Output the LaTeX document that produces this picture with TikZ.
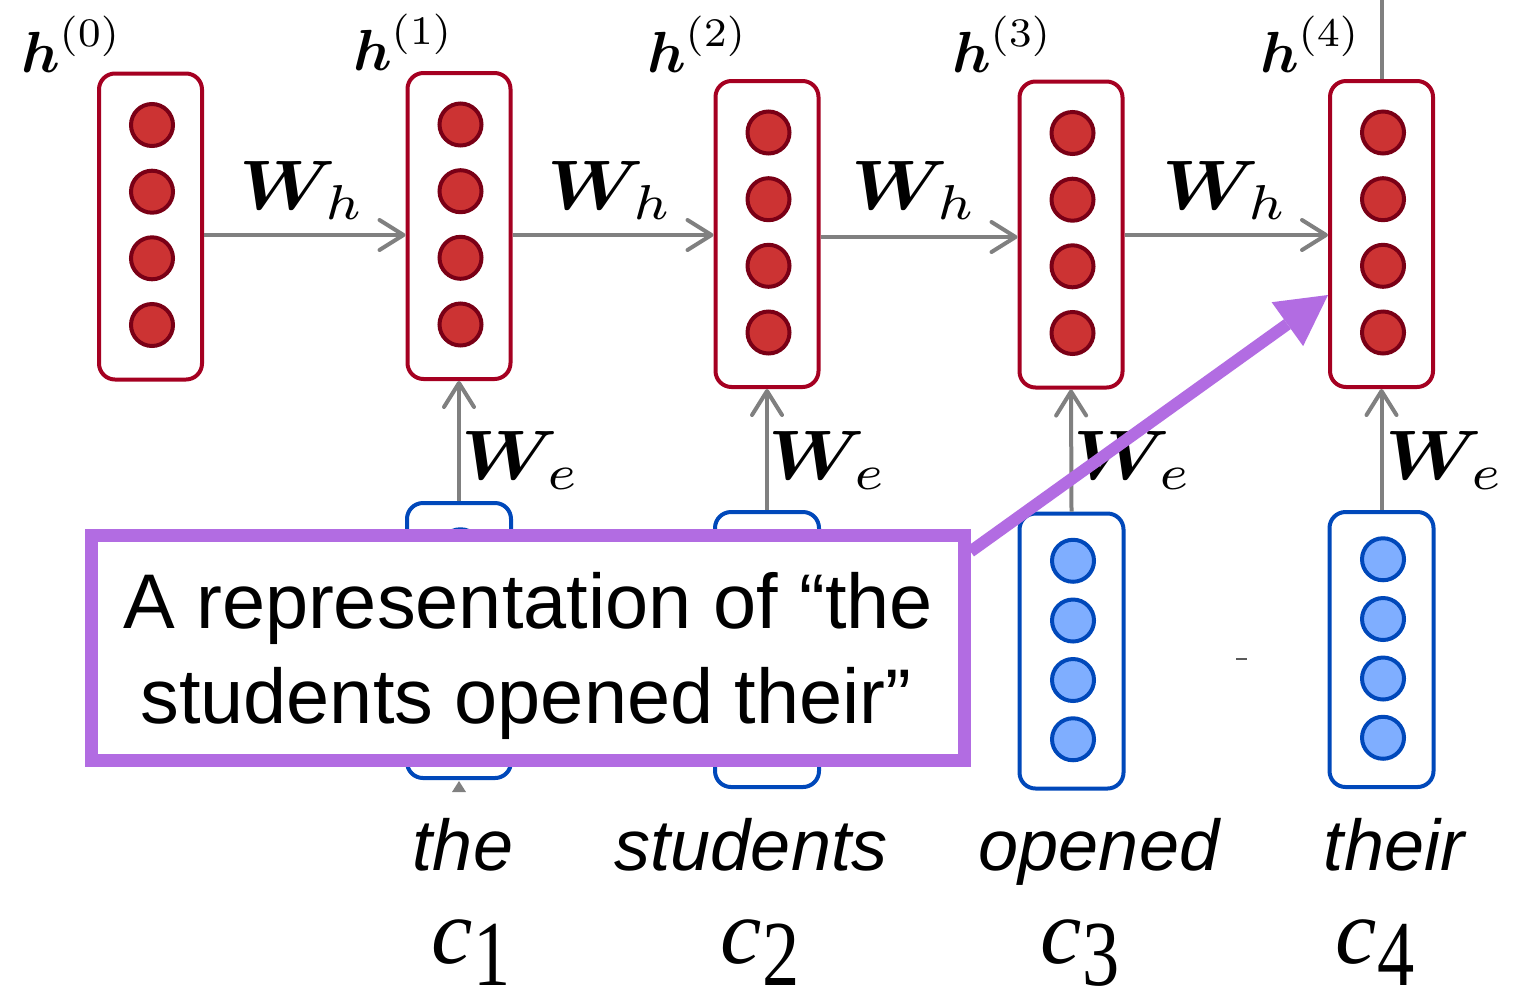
\documentclass[tikz,border=0pt]{standalone}
\usepackage{amsmath}
\usepackage{graphicx}
\usepackage{fontspec}
\newfontfamily\calfont{Liberation Sans}
\newfontfamily\serfont{Liberation Serif}
\usetikzlibrary{arrows.meta,calc}
\definecolor{rbox}{RGB}{165,0,33}
\definecolor{rfill}{RGB}{204,51,51}
\definecolor{rline}{RGB}{122,0,22}
\definecolor{bbox}{RGB}{0,72,186}
\definecolor{bfill}{RGB}{127,174,255}
\definecolor{callp}{RGB}{178,108,226}
\definecolor{arrg}{RGB}{128,128,128}
\newcommand{\hbig}[1]{\scalebox{5.8}{$#1$}}
\newcommand{\wbig}[1]{\scalebox{7.7}[7]{$\boldsymbol{W}_{\mkern-3mu #1}$}}
\newcommand{\cidx}[1]{\itshape c\upshape\raisebox{-22pt}{\scalebox{0.8}[1]{#1}}}
\begin{document}
\begin{tikzpicture}[x=1pt,y=-1pt,
  redbox/.style={draw=rbox, line width=4pt, rounded corners=16pt, minimum width=103pt, minimum height=306pt, inner sep=0pt},
  bluebox/.style={draw=bbox, line width=4pt, rounded corners=16pt, minimum width=104pt, minimum height=275pt, inner sep=0pt},
  rdot/.style={circle, draw=rline, fill=rfill, line width=4pt, minimum size=42pt, inner sep=0pt},
  bdot/.style={circle, draw=bbox, fill=bfill, line width=4pt, minimum size=42pt, inner sep=0pt},
  conn/.style={draw=arrg, line width=4pt, -{Straight Barb[length=24pt,width=30pt,round]}},
  hlab/.style={anchor=base, inner sep=0pt},
  wlab/.style={anchor=base, inner sep=0pt},
  word/.style={anchor=base, inner sep=0pt, font=\calfont\itshape\fontsize{72}{72}\selectfont},
  clab/.style={anchor=base, inner sep=0pt, font=\serfont\fontsize{93}{93}\selectfont},
  callbox/.style={draw=callp, line width=13pt, fill=white, minimum width=873pt, minimum height=225pt, inner sep=0pt},
  calltext/.style={anchor=base, inner sep=0pt, font=\calfont\fontsize{77.5}{95}\selectfont},
  callarrow/.style={draw=callp, line width=12pt, -{Triangle[length=50pt,width=54pt,line width=0pt]}}
]
\fill[white] (0,0) rectangle (1517,1005);
\useasboundingbox (0,0) rectangle (1517,1005);

% red hidden-state boxes
\node[redbox] (r0) at (150.5,226.5) {};
\node[redbox] (r1) at (459,226) {};
\node[redbox] (r2) at (767,234) {};
\node[redbox] (r3) at (1071,234.5) {};
\node[redbox] (r4) at (1381.5,234) {};
\foreach \i in {0,...,4}{
  \foreach \k/\d in {1/-101.5,2/-34.8,3/31.8,4/98.5}{
    \node[rdot] (r\i d\k) at ($(r\i.center)+(1.5,\d)$) {};
  }
}

% blue embedding boxes
\node[bluebox] (b1) at (459,640.5) {};
\node[bluebox] (b2) at (767,649.5) {};
\node[bluebox] (b3) at (1071.5,651) {};
\node[bluebox] (b4) at (1381.5,649.5) {};
\foreach \i in {1,...,4}{
  \foreach \k/\d in {1/-90.25,2/-30.5,3/29,4/88.25}{
    \node[bdot] (b\i d\k) at ($(b\i.center)+(1.5,\d)$) {};
  }
}

% recurrent connections
\draw[conn] ($(r0.east)+(0,8.5)$) -- ($(r1.west)+(0,9)$);
\draw[conn] ($(r1.east)+(0,9)$) -- ($(r2.west)+(0,1)$);
\draw[conn] ($(r2.east)+(0,3)$) -- ($(r3.west)+(0,2.5)$);
\draw[conn] ($(r3.east)+(0,0.5)$) -- ($(r4.west)+(0,1)$);
% embedding connections
\draw[conn] (b1.north) -- (r1.south);
\draw[conn] (b2.north) -- (r2.south);
\draw[conn] (b3.north) -- (r3.south);
\draw[conn] (b4.north) -- (r4.south);
% output line
\coordinate (top) at (1381.5,0);
\draw[draw=arrg, line width=4pt] (r4.north) -- (top);
% tip below first embedding box
\fill[arrg] ($(b1.south)+(-7,12)$) -- ($(b1.south)+(7,12)$) -- ($(b1.south)+(0,1)$) -- cycle;
\draw[draw=arrg!70!black, line width=1.5pt] (1236,659) -- (1247,659);

% labels
\node[hlab] (h0) at (71.5,72) {\hbig{\boldsymbol{h}^{(0)}}};
\node[hlab] (h1) at (403.5,70) {\hbig{\boldsymbol{h}^{(1)}}};
\node[hlab] (h2) at (697.5,72) {\hbig{\boldsymbol{h}^{(2)}}};
\node[hlab] (h3) at (1002.5,72) {\hbig{\boldsymbol{h}^{(3)}}};
\node[hlab] (h4) at (1310.5,72) {\hbig{\boldsymbol{h}^{(4)}}};

\node[wlab] (wh1) at (302,209) {\wbig{h}};
\node[wlab] (wh2) at (610,209) {\wbig{h}};
\node[wlab] (wh3) at (914,209) {\wbig{h}};
\node[wlab] (wh4) at (1225,209) {\wbig{h}};

\node[wlab] (we1) at (521,479) {\wbig{e}};
\node[wlab] (we2) at (828,479) {\wbig{e}};
\node[wlab] (we3) at (1133,479) {\wbig{e}};
\node[wlab] (we4) at (1445,479) {\wbig{e}};

\node[word] (w1) at (463,870) {the};
\node[word] (w2) at (751,870) {students};
\node[word] (w3) at (1099,870) {opened};
\node[word] (w4) at (1394,870) {their};

\node[clab] (c1) at (471,963) {\cidx{1}};
\node[clab] (c2) at (760,963) {\cidx{2}};
\node[clab] (c3) at (1080,963) {\cidx{3}};
\node[clab] (c4) at (1375,963) {\cidx{4}};

% callout
\node[callbox] (cal) at (527.5,647.5) {};
\node[calltext] (ct1) at (528,628) {A representation of “the};
\node[calltext] (ct2) at (526,723) {students opened their”};
\draw[callarrow] ($(cal.north east)+(0,23)$) -- ($(r4.west)+(0,61)$);
\end{tikzpicture}
\end{document}
